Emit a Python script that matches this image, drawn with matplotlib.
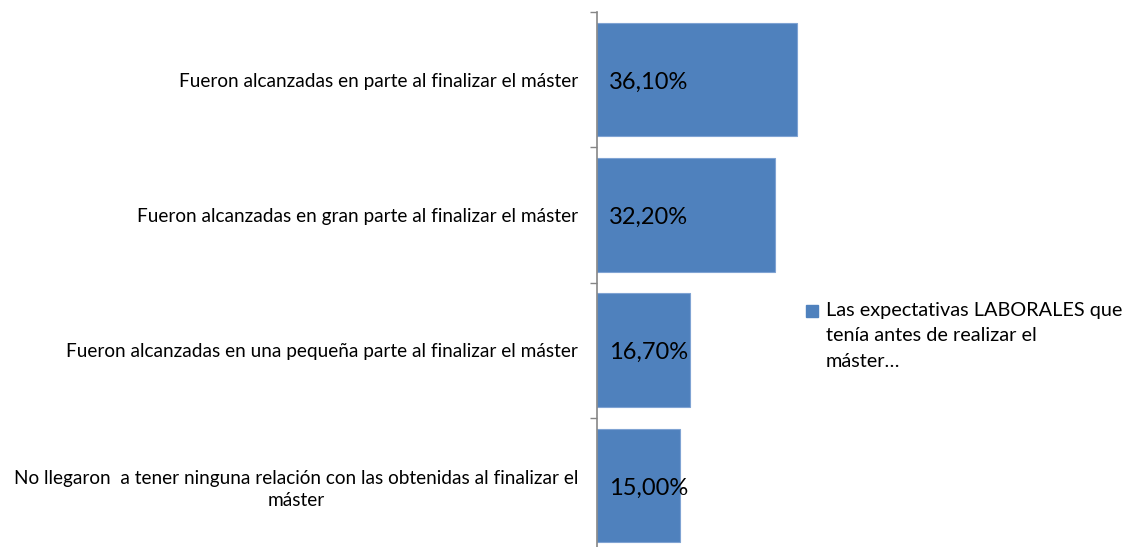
import matplotlib.pyplot as plt
from matplotlib.patches import Rectangle

plt.rcParams['font.family'] = ['Lato', 'DejaVu Sans']

categorias = [
    "Fueron alcanzadas en parte al finalizar el máster",
    "Fueron alcanzadas en gran parte al finalizar el máster",
    "Fueron alcanzadas en una pequeña parte al finalizar el máster",
    "No llegaron  a tener ninguna relación con las obtenidas al finalizar el\nmáster",
]
porcentajes = [36.10, 32.20, 16.70, 15.00]
serie = "Las expectativas LABORALES que\ntenía antes de realizar el\nmáster…"

azul = "#4F81BD"
gris = "#868686"

W, H = 1127, 547
fig = plt.figure(figsize=(W / 100, H / 100), dpi=100)
# axes placed in pixel units: vertical axis at x=597, bands of ~135 px
ax = fig.add_axes([597 / W, -6 / H, 221.6 / W, 541 / H])

n = len(categorias)
pos = list(range(n))
ax.barh(pos, porcentajes, height=0.84, color=azul, edgecolor="#7FA3D3", linewidth=0.8)
ax.set_xlim(0, 40)
ax.set_ylim(n - 0.5, -0.5)

for y, v in zip(pos, porcentajes):
    ax.text(2.2, y + 0.02, f"{v:.2f}%".replace(".", ","), va="center", ha="left",
            fontsize=17, color="black")

ax.set_yticks(pos)
ax.set_yticklabels(categorias, fontsize=13.7)
for t in ax.get_yticklabels():
    t.set_multialignment("center")
    t.set_linespacing(1.35)
ax.tick_params(axis="y", which="major", length=0, pad=13.5)
ax.set_yticks([i - 0.5 for i in range(n + 1)], minor=True)
ax.tick_params(axis="y", which="minor", length=5, color=gris, width=1)
ax.set_xticks([])

for s in ["top", "right", "bottom"]:
    ax.spines[s].set_visible(False)
ax.spines["left"].set_color(gris)
ax.spines["left"].set_linewidth(1.2)

# legend drawn by hand: square marker plus wrapped series name
fig.patches.append(Rectangle((806 / W, 1 - 317 / H), 12 / W, 12 / H,
                             transform=fig.transFigure, color=azul))
fig.text(826 / W, 1 - 302 / H, serie, ha="left", va="top", fontsize=14.3,
         linespacing=1.6)

fig.savefig("out.png", dpi=100)
